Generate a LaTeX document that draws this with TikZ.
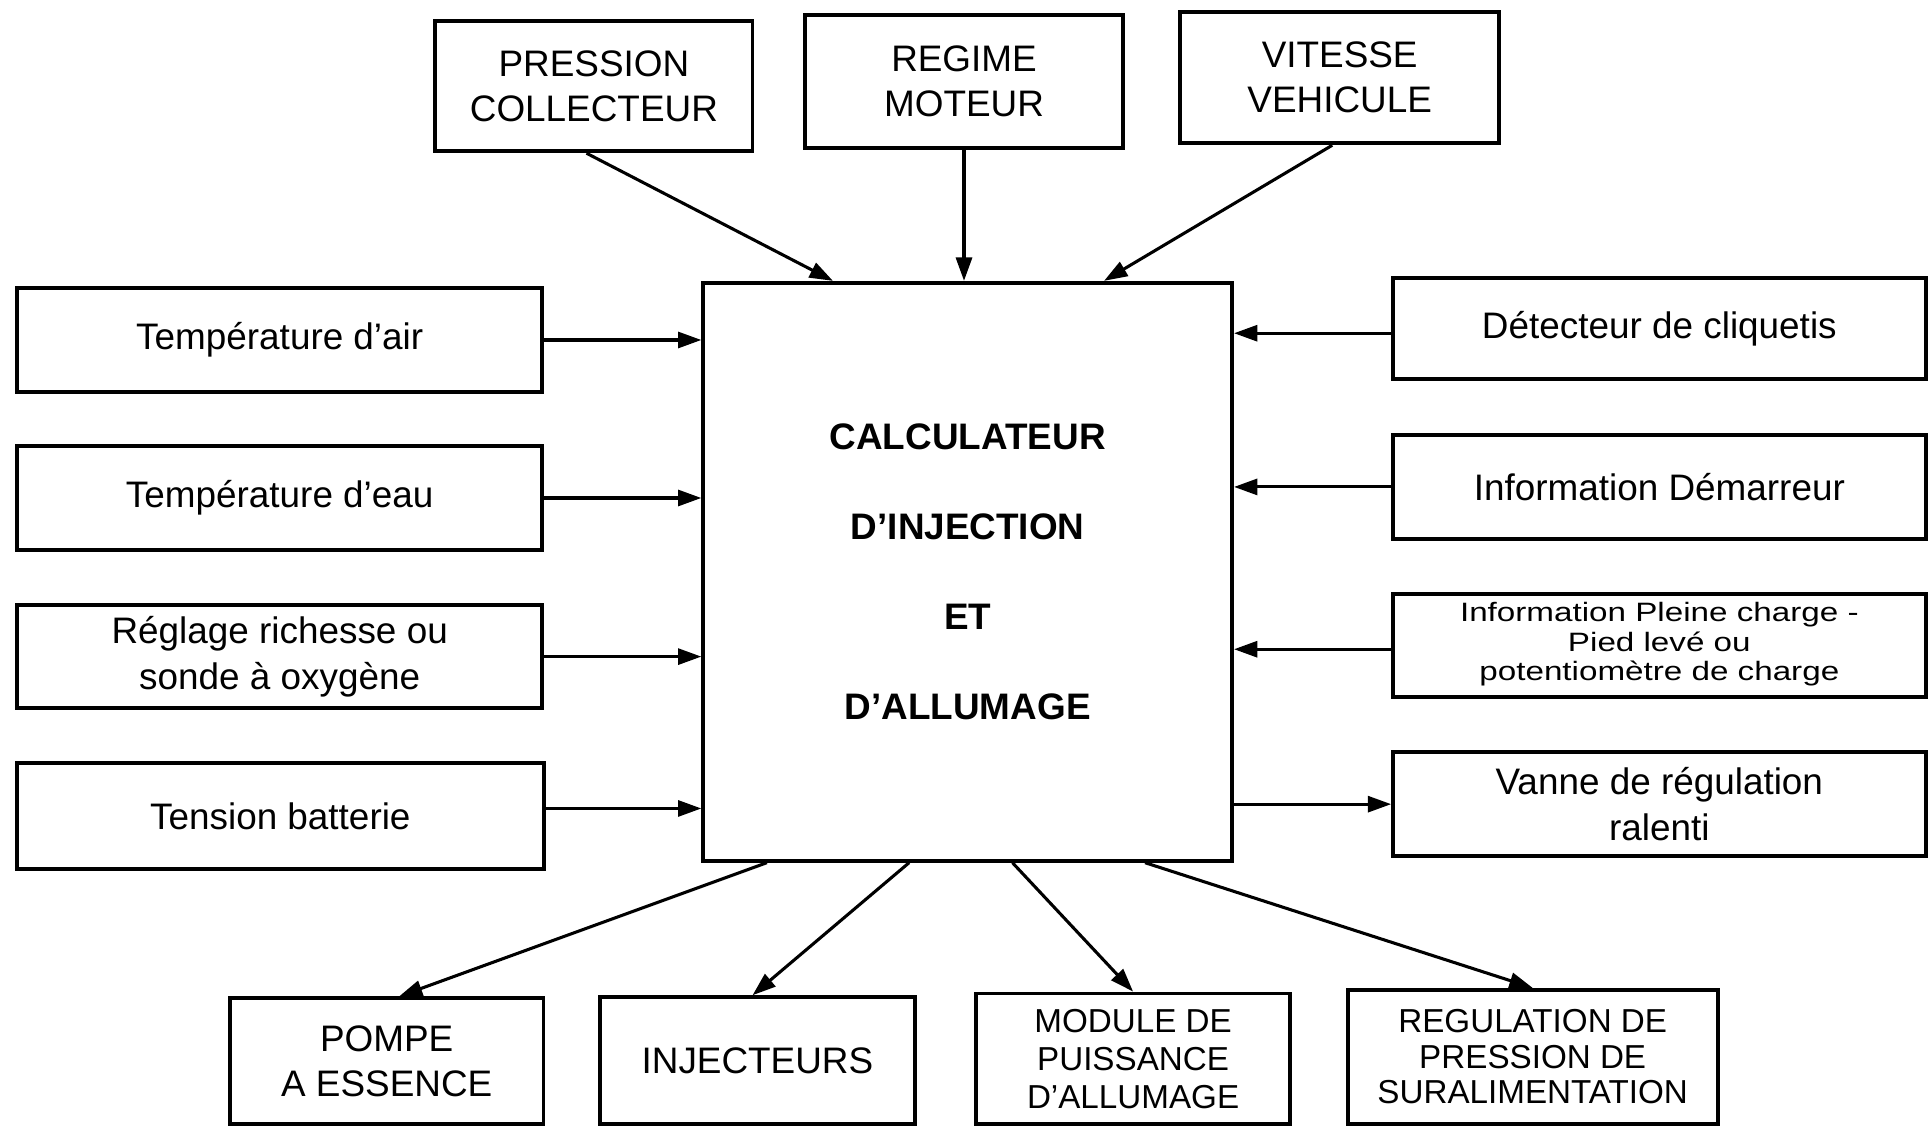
\documentclass[tikz,border=0pt]{standalone}
\usepackage{fontspec}
\usepackage{graphicx}
\setmainfont{Liberation Sans}
\usetikzlibrary{arrows.meta,calc}
\begin{document}
\begin{tikzpicture}[x=1pt,y=-1pt,
  box/.style={draw, line width=3.2pt, align=center, inner sep=0pt, font=\fontsize{30}{37}\selectfont},
  arr/.style={line width=2.5pt, -{Triangle[length=19pt,width=13pt]}}]
\useasboundingbox[fill=white] (0,0) rectangle (1568,916);
% top
\node[box, minimum width=258pt, minimum height=106pt] (pc) at (483,70) {PRESSION\\COLLECTEUR};
\node[box, minimum width=258pt, minimum height=108pt] (rm) at (784,66) {REGIME\\MOTEUR};
\node[box, minimum width=259pt, minimum height=107pt] (vv) at (1089.5,63) {VITESSE\\VEHICULE};
% central
\node[box, minimum width=430pt, minimum height=470pt, font=\bfseries\fontsize{30}{73}\selectfont] (calc) at (787,465) {CALCULATEUR\\D'INJECTION\\ET\\D'ALLUMAGE};
% left
\node[box, minimum width=427pt, minimum height=85pt] (ta) at (227.5,276.5) {Température d'air};
\node[box, minimum width=427pt, minimum height=85pt] (te) at (227.5,405) {Température d'eau};
\node[box, minimum width=427pt, minimum height=84pt] (rr) at (227.5,534) {Réglage richesse ou\\sonde à oxygène};
\node[box, minimum width=429pt, minimum height=86pt] (tb) at (228,663.5) {Tension batterie};
% right
\node[box, minimum width=433pt, minimum height=82pt] (dc) at (1349.5,267) {Détecteur de cliquetis};
\node[box, minimum width=433pt, minimum height=84pt] (id) at (1349.5,396) {Information Démarreur};
\node[box, minimum width=433pt, minimum height=84pt] (ip) at (1349.5,525) {\scalebox{1}[0.8]{\fontsize{27}{30}\selectfont\begin{tabular}{@{}c@{}}Information Pleine charge -\\Pied levé ou\\potentiomètre de charge\end{tabular}}};
\node[box, minimum width=433pt, minimum height=85pt] (vr) at (1349.5,654) {Vanne de régulation\\ralenti};
% bottom
\node[box, minimum width=255pt, minimum height=102pt] (pe) at (314.5,863) {POMPE\\A ESSENCE};
\node[box, minimum width=256pt, minimum height=103pt] (inj) at (616,862.5) {INJECTEURS};
\node[box, minimum width=255pt, minimum height=106pt, font=\fontsize{27}{31}\selectfont] (mod) at (921.5,861) {MODULE DE\\PUISSANCE\\D'ALLUMAGE};
\node[box, minimum width=301pt, minimum height=109pt, font=\fontsize{27}{29}\selectfont] (reg) at (1246.5,859.5) {REGULATION DE\\PRESSION DE\\SURALIMENTATION};
% top arrows
\draw[arr] ($(pc.south)+(-6,0)$) -- ($(calc.north west)!0.247!(calc.north east)$);
\draw[arr] (rm.south) -- (rm.south |- calc.north);
\draw[arr] ($(vv.south)+(-6,0)$) -- ($(calc.north west)!0.756!(calc.north east)$);
% left arrows
\draw[arr] (ta.east) -- (ta.east -| calc.west);
\draw[arr] (te.east) -- (te.east -| calc.west);
\draw[arr] (rr.east) -- (rr.east -| calc.west);
\draw[arr] ($(tb.east)+(0,-6)$) -- ($(tb.east -| calc.west)+(0,-6)$);
% right arrows
\draw[arr] ($(dc.west)+(0,4)$) -- ($(dc.west -| calc.east)+(0,4)$);
\draw[arr] (id.west) -- (id.west -| calc.east);
\draw[arr] ($(ip.west)+(0,3)$) -- ($(ip.west -| calc.east)+(0,3)$);
\draw[arr] (vr.west -| calc.east) -- (vr.west);
% bottom arrows
\draw[arr] ($(calc.south west)!0.123!(calc.south east)$) -- ($(pe.north)+(10,0)$);
\draw[arr] ($(calc.south west)!0.39!(calc.south east)$) -- ($(inj.north)+(-4,0)$);
\draw[arr] ($(calc.south west)!0.584!(calc.south east)$) -- (mod.north);
\draw[arr] ($(calc.south west)!0.833!(calc.south east)$) -- (reg.north);
\end{tikzpicture}
\end{document}
